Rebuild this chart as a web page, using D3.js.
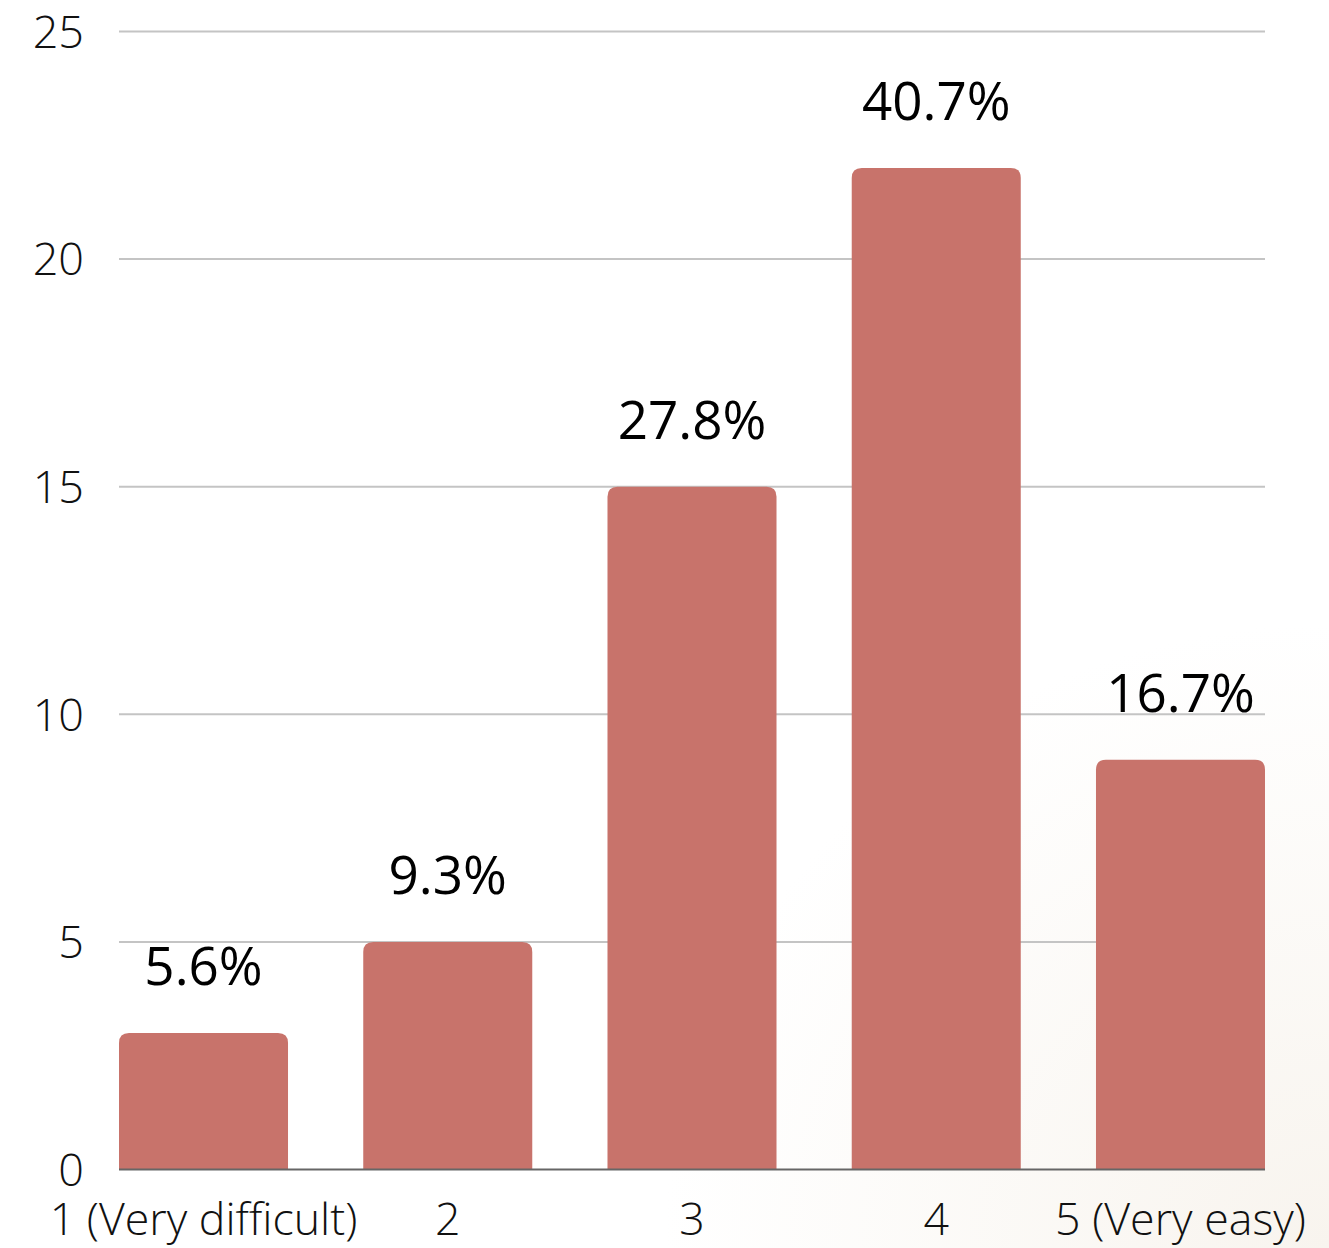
<!DOCTYPE html>
<html><head><meta charset="utf-8">
<script src="https://cdn.jsdelivr.net/npm/d3@7"></script>
<style>html,body{margin:0;padding:0;background:#fff;}</style>
</head><body>
<script>
const categories = ["1 (Very difficult)", "2", "3", "4", "5 (Very easy)"];
const counts = [3, 5, 15, 22, 9];
const percentLabels = ["5.6%", "9.3%", "27.8%", "40.7%", "16.7%"];
const yTicks = [0, 5, 10, 15, 20, 25];

(function(){
const W = 1329, H = 1248;
const svg = d3.select("body").append("svg").attr("width", W).attr("height", H);
const defs = svg.append("defs");
const rg = defs.append("radialGradient").attr("id","bg").attr("cx",1).attr("cy",1).attr("r",0.5)
  .attr("gradientUnits","objectBoundingBox");
rg.append("stop").attr("offset",0).attr("stop-color","#f8f4ee");
rg.append("stop").attr("offset",1).attr("stop-color","#ffffff");
svg.append("rect").attr("width",W).attr("height",H).attr("fill","url(#bg)");

const mLeft = 119, mRight = 1265, mTop = 31.5, mBottom = 1169.5;
const x = d3.scaleBand().domain(categories).range([mLeft, mRight]).paddingInner(0.308).paddingOuter(0);
const y = d3.scaleLinear().domain([0, 25]).range([mBottom, mTop]);

svg.append("g").selectAll("line").data(yTicks.filter(d=>d>0)).join("line")
  .attr("x1", mLeft).attr("x2", mRight).attr("y1", d=>y(d)).attr("y2", d=>y(d))
  .attr("stroke","#c4c4c4").attr("stroke-width",2);

svg.append("g").selectAll("text").data(yTicks).join("text")
  .attr("x", 84).attr("y", d=>y(d)).attr("dy","0.36em").attr("text-anchor","end")
  .attr("font-family","'Open Sans'").attr("font-weight",300).attr("font-size",45).attr("fill","#111")
  .text(d=>d);

const r = 10;
function barPath(x0, w, yTop, yBot){
  const rr = Math.min(r, (yBot-yTop)/2, w/2);
  return `M${x0},${yBot}V${yTop+rr}Q${x0},${yTop} ${x0+rr},${yTop}H${x0+w-rr}Q${x0+w},${yTop} ${x0+w},${yTop+rr}V${yBot}Z`;
}
svg.append("g").selectAll("path").data(counts).join("path")
  .attr("d", (d,i)=>barPath(x(categories[i]), x.bandwidth(), y(d), y(0)))
  .attr("fill","#c8736b");

svg.append("line").attr("x1",mLeft).attr("x2",mRight).attr("y1",y(0)).attr("y2",y(0))
  .attr("stroke","#666").attr("stroke-width",2);

svg.append("g").selectAll("text").data(counts).join("text")
  .attr("x",(d,i)=>x(categories[i])+x.bandwidth()/2).attr("y", d=>y(d)-48)
  .attr("text-anchor","middle").attr("font-family","'Open Sans'").attr("font-size",53).attr("fill","#000")
  .text((d,i)=>percentLabels[i]);

svg.append("g").selectAll("text").data(categories).join("text")
  .attr("x", d=>x(d)+x.bandwidth()/2).attr("y", 1235)
  .attr("text-anchor","middle").attr("font-family","'Open Sans'").attr("font-weight",300).attr("font-size",44.7).attr("fill","#111")
  .text(d=>d);
})();
</script>
</body></html>
